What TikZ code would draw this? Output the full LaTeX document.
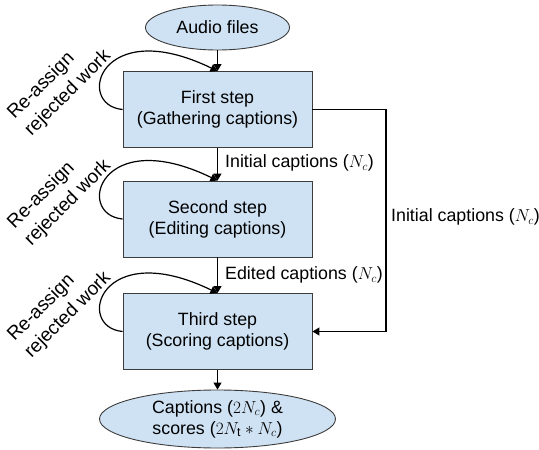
\documentclass[tikz,border=0pt]{standalone}
\usepackage{fontspec}
\setmainfont{Liberation Sans}
\usetikzlibrary{arrows.meta,shapes.geometric}
\definecolor{boxblue}{HTML}{CFE2F3}
\definecolor{edge}{HTML}{3C3C3C}
\tikzset{
  stepbox/.style={draw=edge, line width=0.9pt, fill=boxblue, minimum width=189pt, minimum height=76pt, align=center, inner sep=0pt},
  term/.style={ellipse, draw=edge, line width=0.9pt, fill=boxblue, align=center, inner sep=0pt},
  conn/.style={line width=1.2pt, -{Triangle[length=7pt,width=8pt]}},
  lbl/.style={anchor=west, inner sep=0pt},
  rlbl/.style={rotate=45, align=left, inner sep=0pt, font=\fontsize{19}{24}\selectfont}
}
\begin{document}
\begin{tikzpicture}[x=1pt,y=-1pt,font=\fontsize{17.8}{21}\selectfont]
\useasboundingbox (0,0) rectangle (539,450);
\node[term, minimum width=144pt, minimum height=45pt] (audio) at (217.5,27.5) {Audio files};
\node[stepbox] (b1) at (217.5,109.5) {First step\\(Gathering captions)};
\node[stepbox] (b2) at (217.5,219) {Second step\\(Editing captions)};
\node[stepbox] (b3) at (217.5,331.5) {Third step\\(Scoring captions)};
\node[term, minimum width=236pt, minimum height=58pt] (out) at (217.5,419) {Captions ($2N_c$) \&\\scores ($2N_{\mathrm{t}} * N_c$)};

\draw[conn] (audio) -- (b1);
\draw[conn] (b1) -- (b2);
\draw[conn] (b2) -- (b3);
\draw[conn] (b3) -- (out);

\coordinate (rc) at (386,0);
\draw[conn] (b1.east) -- (b1.east -| rc) -- (b3.east -| rc) -- (b3.east);

\node[lbl] (l1) at (225,163) {Initial captions ($N_c$)};
\node[lbl] (l2) at (225,275) {Edited captions ($N_c$)};
\node[lbl] (l3) at (391,217) {Initial captions ($N_c$)};

\foreach \b/\r in {b1/r1,b2/r2,b3/r3}{
  \draw[conn] (\b.west) .. controls +(-48,-4.5) and +(-117.5,-57) .. (\b.north);
  \node[rlbl] (\r) at ([shift={(-63,-24.5)}]\b.west) {Re-assign\\rejected work};
}
\end{tikzpicture}
\end{document}
